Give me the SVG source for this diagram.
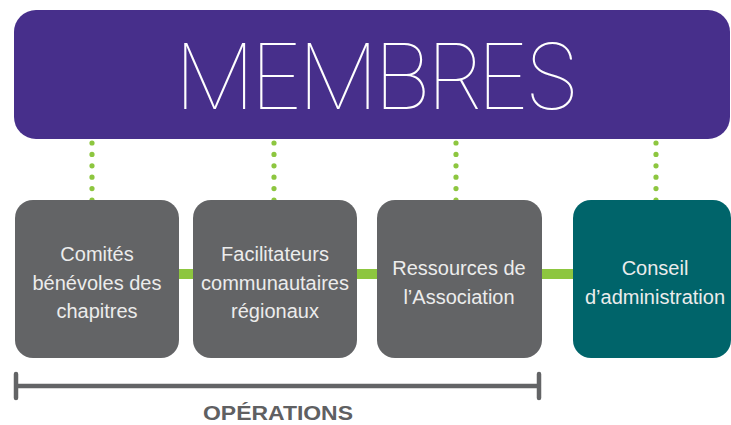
<svg xmlns="http://www.w3.org/2000/svg" width="731" height="425" viewBox="0 0 731 425">
<style>
.box{fill:#636466}
.lbl{font-family:"Liberation Sans",Arial,sans-serif;font-size:20px;fill:#ececec;text-anchor:middle}
.dots{stroke:#8dc63f;stroke-width:5.2;stroke-linecap:round;stroke-dasharray:0 11.4;fill:none}
.bar{stroke:#8dc63f;stroke-width:10;fill:none}
.brk{stroke:#636466;stroke-width:4.5;stroke-linecap:round;fill:none}
</style>
<rect width="731" height="425" fill="#ffffff"/>
<g id="connectors">
<path class="dots" d="M92 143V201M274 143V201M456 143V201M656 143V201"/>
<path class="bar" d="M178 274H194M356 274H378M540 274H574"/>
</g>
<g id="membres">
<rect x="14" y="10" width="716" height="129" rx="22" fill="#472f8b"/>
<text x="377" y="109" font-family="Inter,'Liberation Sans',sans-serif" font-weight="100" font-size="91" fill="#ffffff" text-anchor="middle" textLength="406" lengthAdjust="spacing">MEMBRES</text>
</g>
<g id="comites">
<rect class="box" x="15" y="200" width="164" height="158" rx="18"/>
<text class="lbl" x="97"><tspan x="97" y="261">Comités</tspan><tspan x="97" y="290">bénévoles des</tspan><tspan x="97" y="318">chapitres</tspan></text>
</g>
<g id="facilitateurs">
<rect class="box" x="193" y="200" width="164" height="158" rx="18"/>
<text class="lbl"><tspan x="275" y="261">Facilitateurs</tspan><tspan x="275" y="290">communautaires</tspan><tspan x="275" y="318">régionaux</tspan></text>
</g>
<g id="ressources">
<rect class="box" x="377" y="200" width="165" height="158" rx="18"/>
<text class="lbl"><tspan x="459" y="275">Ressources de</tspan><tspan x="459" y="304">l’Association</tspan></text>
</g>
<g id="conseil">
<rect x="573" y="200" width="158" height="158" rx="18" fill="#00646a"/>
<text class="lbl"><tspan x="655" y="275">Conseil</tspan><tspan x="655" y="304">d’administration</tspan></text>
</g>
<g id="operations">
<path class="brk" d="M16 386H539M16 374V398M539 374V398"/>
<text x="278" y="420" font-family="'Liberation Sans',Arial,sans-serif" font-weight="bold" font-size="21" fill="#5f6062" text-anchor="middle" textLength="150" lengthAdjust="spacingAndGlyphs">OPÉRATIONS</text>
</g>
</svg>
